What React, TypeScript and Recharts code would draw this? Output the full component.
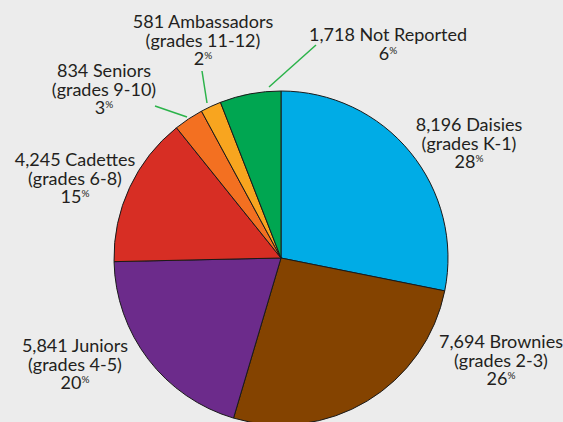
import React from "react"
import { PieChart, Pie, Cell } from "recharts"

const troops = ["Daisies", "Brownies", "Juniors", "Cadettes", "Seniors", "Ambassadors", "Not Reported"]
const grades = ["grades K-1", "grades 2-3", "grades 4-5", "grades 6-8", "grades 9-10", "grades 11-12", ""]
const members = [8196, 7694, 5841, 4245, 834, 581, 1718]

const colors = ["#00ace6", "#844300", "#6c2b8b", "#d72e24", "#f37021", "#f8a51f", "#00a651"]

// label anchor (center x, first baseline y) per slice
const labelPos: [number, number][] = [
  [469, 131],
  [501, 348],
  [75, 352],
  [75, 166],
  [104, 77],
  [203, 28],
  [388, 41],
]

// leader lines for the thin slices: [x1, y1, x2, y2]
const leaders: (number[] | null)[] = [
  null,
  null,
  null,
  null,
  [155, 106, 187, 117],
  [202, 71, 207, 103],
  [316, 45, 269, 87],
]

const total = members.reduce((a, b) => a + b, 0)
const data = troops.map((name, i) => ({ name, value: members[i] }))

const FONT = "Lato, 'Open Sans', sans-serif"
const LINE = 18.5

function renderLabel(props: any) {
  const i = props.index
  const [x, y] = labelPos[i]
  const pct = Math.round((members[i] / total) * 100)
  const lines = [`${members[i].toLocaleString("en-US")} ${troops[i]}`]
  if (grades[i]) lines.push(`(${grades[i]})`)
  const ln = leaders[i]
  return (
    <g key={`lbl-${i}`}>
      {ln && <line x1={ln[0]} y1={ln[1]} x2={ln[2]} y2={ln[3]} stroke="#2bb34a" strokeWidth={1.5} />}
      <text x={x} y={y} textAnchor="middle" fill="#231f20" fontSize={18} fontFamily={FONT}>
        {lines.map((t, k) => (
          <tspan key={k} x={x} dy={k === 0 ? 0 : LINE}>
            {t}
          </tspan>
        ))}
        <tspan x={x} dy={LINE}>{pct}</tspan>
        <tspan fontSize={10} dy={-6}>%</tspan>
      </text>
    </g>
  )
}

export default function App() {
  return (
    <div style={{ position: "absolute", left: 0, top: 0, width: 563, height: 422, background: "#ececec" }}>
      <PieChart width={563} height={422} margin={{ top: 0, right: 0, bottom: 0, left: 0 }}>
        <Pie
          data={data}
          dataKey="value"
          nameKey="name"
          cx={281}
          cy={258}
          outerRadius={167}
          startAngle={90}
          endAngle={-270}
          stroke="#1a1a1a"
          strokeWidth={1}
          label={renderLabel}
          labelLine={false}
          isAnimationActive={false}
        >
          {data.map((d, i) => (
            <Cell key={`cell-${i}`} fill={colors[i]} />
          ))}
        </Pie>
      </PieChart>
    </div>
  )
}
